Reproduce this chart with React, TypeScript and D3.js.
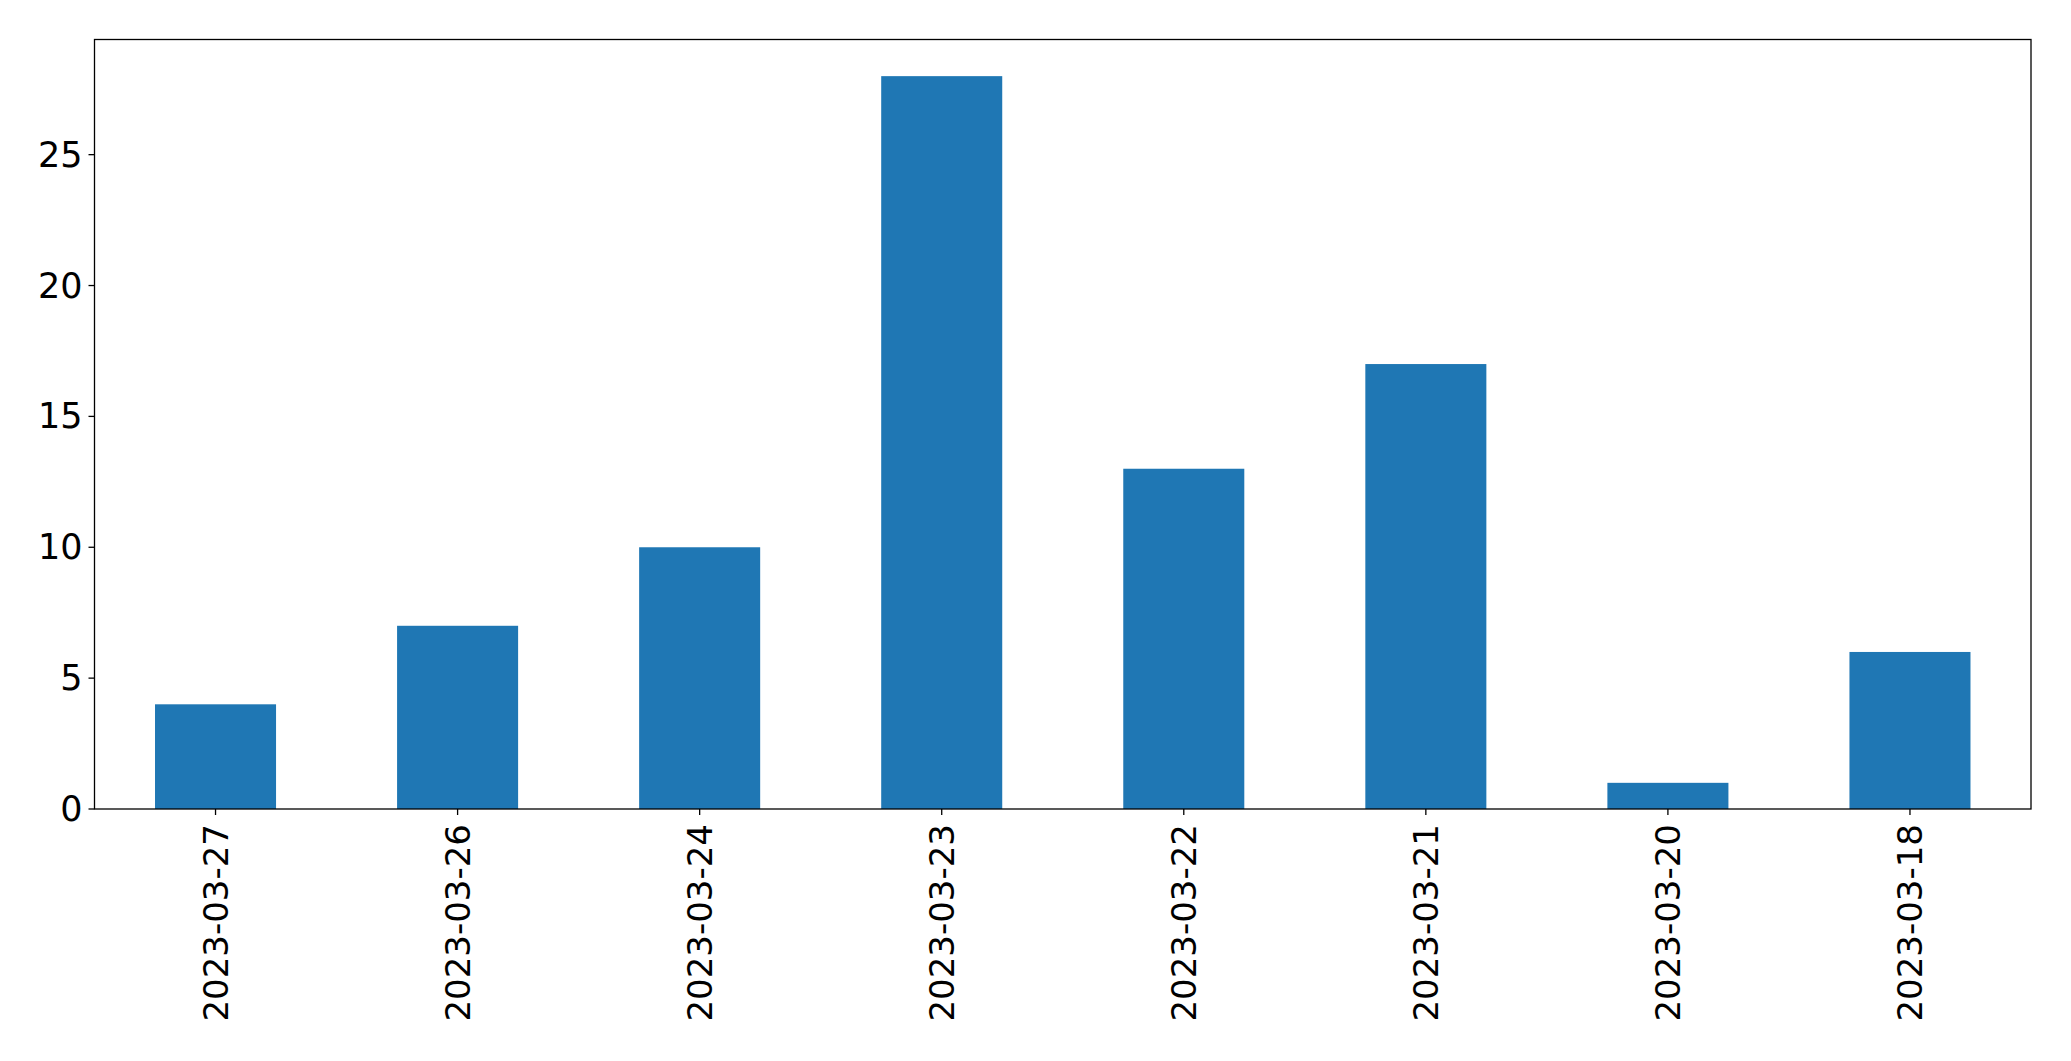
import React from "react";
import * as d3 from "d3";

const categories = ["2023-03-27", "2023-03-26", "2023-03-24", "2023-03-23", "2023-03-22", "2023-03-21", "2023-03-20", "2023-03-18"];
const values = [4, 7, 10, 28, 13, 17, 1, 6];
const yTicks = [0, 5, 10, 15, 20, 25];

const W = 2071;
const H = 1061;
const left = 94.5;
const right = 2031;
const top = 39.5;
const bottom = 809;
const fontSize = 34;
const font = "DejaVu Sans, sans-serif";

export default function App() {
  const x = d3.scaleLinear().domain([-0.5, categories.length - 0.5]).range([left, right]);
  const yMax = d3.max(values)! * 1.05;
  const y = d3.scaleLinear().domain([0, yMax]).range([bottom, top]);
  const bw = 0.5;
  return (
    <svg width={W} height={H} style={{ position: "absolute", left: 0, top: 0, background: "#fff" }}>
      <rect x={0} y={0} width={W} height={H} fill="#fff" />
      {values.map((v, i) => (
        <rect key={i} x={x(i - bw / 2)} y={y(v)} width={x(i + bw / 2) - x(i - bw / 2)} height={y(0) - y(v)} fill="#1f77b4" />
      ))}
      <rect x={left} y={top} width={right - left} height={bottom - top} fill="none" stroke="#000" strokeWidth={1.3} />
      {yTicks.map((t) => (
        <g key={t}>
          <line x1={left - 6} x2={left} y1={y(t)} y2={y(t)} stroke="#000" strokeWidth={1.3} />
          <text x={left - 12} y={y(t)} textAnchor="end" dominantBaseline="central" fontFamily={font} fontSize={35} fill="#000">{t}</text>
        </g>
      ))}
      {categories.map((c, i) => (
        <g key={c}>
          <line x1={x(i)} x2={x(i)} y1={bottom} y2={bottom + 6} stroke="#000" strokeWidth={1.3} />
          <text transform={`translate(${x(i)},${bottom + 15}) rotate(-90)`} textAnchor="end" dominantBaseline="central" fontFamily={font} fontSize={fontSize} fill="#000">{c}</text>
        </g>
      ))}
    </svg>
  );
}
